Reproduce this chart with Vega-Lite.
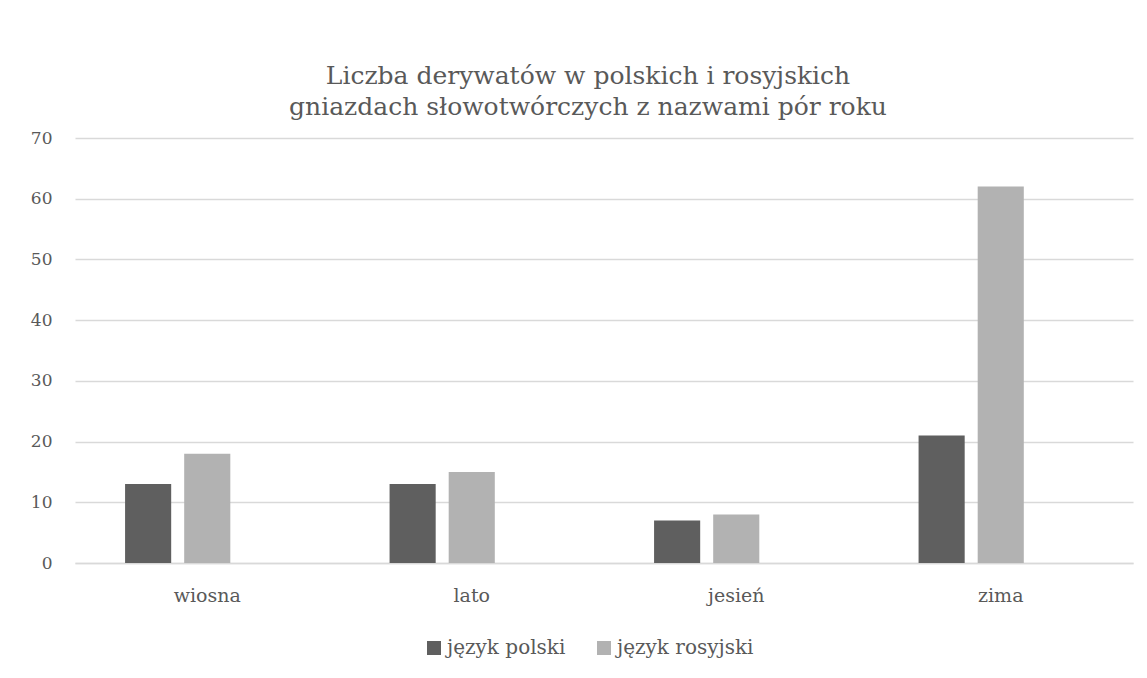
{
  "$schema": "https://vega.github.io/schema/vega-lite/v6.json",
  "autosize": {"type": "none"},
  "width": 1058,
  "height": 425,
  "padding": {"left": 75, "top": 138, "right": 14, "bottom": 115},
  "background": "white",
  "title": {
    "text": ["Liczba derywatów w polskich i rosyjskich", "gniazdach słowotwórczych z nazwami pór roku"],
    "font": "DejaVu Serif",
    "fontSize": 25,
    "fontWeight": "normal",
    "color": "#595959",
    "lineHeight": 31,
    "anchor": "middle",
    "dx": -16,
    "offset": 9
  },
  "data": {
    "values": [
      {"pora": "wiosna", "jezyk": "język polski", "liczba": 13},
      {"pora": "wiosna", "jezyk": "język rosyjski", "liczba": 18},
      {"pora": "lato", "jezyk": "język polski", "liczba": 13},
      {"pora": "lato", "jezyk": "język rosyjski", "liczba": 15},
      {"pora": "jesień", "jezyk": "język polski", "liczba": 7},
      {"pora": "jesień", "jezyk": "język rosyjski", "liczba": 8},
      {"pora": "zima", "jezyk": "język polski", "liczba": 21},
      {"pora": "zima", "jezyk": "język rosyjski", "liczba": 62}
    ]
  },
  "mark": {"type": "bar"},
  "encoding": {
    "x": {
      "field": "pora",
      "type": "nominal",
      "scale": {"domain": ["wiosna", "lato", "jesień", "zima"], "paddingInner": 0, "paddingOuter": 0},
      "axis": {
        "title": null,
        "labelAngle": 0,
        "ticks": false,
        "domain": true,
        "domainColor": "#d9d9d9",
        "domainWidth": 1.5,
        "labelFont": "DejaVu Serif",
        "labelFontSize": 19,
        "labelColor": "#595959",
        "labelPadding": 23
      }
    },
    "xOffset": {
      "field": "jezyk",
      "type": "nominal",
      "scale": {"domain": ["język polski", "język rosyjski", "brak"], "paddingInner": 0.22, "paddingOuter": 0.847}
    },
    "y": {
      "field": "liczba",
      "type": "quantitative",
      "scale": {"domain": [0, 70]},
      "axis": {
        "title": null,
        "values": [0, 10, 20, 30, 40, 50, 60, 70],
        "ticks": false,
        "domain": false,
        "grid": true,
        "gridColor": "#d9d9d9",
        "gridWidth": 1.5,
        "labelFont": "DejaVu Serif",
        "labelFontSize": 17,
        "labelColor": "#595959",
        "labelPadding": 23
      }
    },
    "color": {
      "field": "jezyk",
      "type": "nominal",
      "scale": {"domain": ["język polski", "język rosyjski"], "range": ["#5f5f5f", "#b2b2b2"]},
      "legend": {
        "title": null,
        "orient": "none",
        "direction": "horizontal",
        "legendX": 349,
        "legendY": 500,
        "symbolType": "square",
        "symbolSize": 196,
        "symbolStrokeWidth": 0,
        "labelFont": "DejaVu Serif",
        "labelFontSize": 20,
        "labelColor": "#595959",
        "labelOffset": 3,
        "columnPadding": 28
      }
    }
  },
  "config": {
    "font": "DejaVu Serif",
    "view": {"stroke": null}
  }
}
